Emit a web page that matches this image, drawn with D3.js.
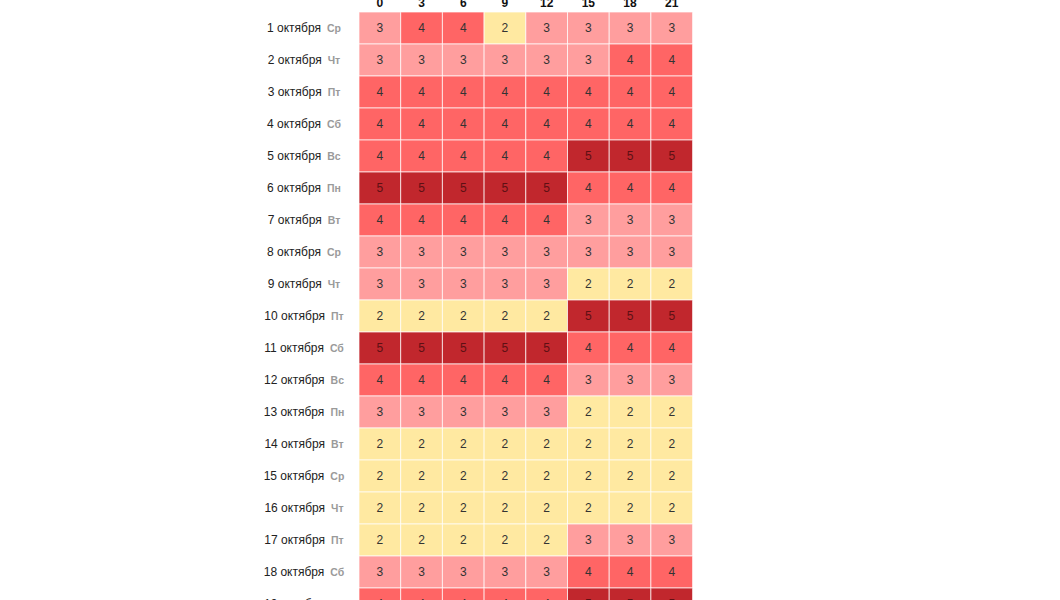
<!DOCTYPE html>
<html>
<head>
<meta charset="utf-8">
<script src="https://cdn.jsdelivr.net/npm/d3@7"></script>
<style>
  body { margin: 0; background: #fff; font-family: "Liberation Sans", Arial, sans-serif; }
  #heatmap { width: 1060px; height: 600px; overflow: hidden; }
</style>
</head>
<body>
<div id="heatmap"></div>
<script>
// hours on top, days down the left
const hours = [0, 3, 6, 9, 12, 15, 18, 21];
const days = ["1 октября", "2 октября", "3 октября", "4 октября", "5 октября", "6 октября",
  "7 октября", "8 октября", "9 октября", "10 октября", "11 октября", "12 октября",
  "13 октября", "14 октября", "15 октября", "16 октября", "17 октября", "18 октября", "19 октября"];
const weekdays = ["Ср", "Чт", "Пт", "Сб", "Вс", "Пн", "Вт", "Ср", "Чт", "Пт", "Сб", "Вс",
  "Пн", "Вт", "Ср", "Чт", "Пт", "Сб", "Вс"];
// level per day, one value per hour column
const levels = [
  [3, 4, 4, 2, 3, 3, 3, 3],
  [3, 3, 3, 3, 3, 3, 4, 4],
  [4, 4, 4, 4, 4, 4, 4, 4],
  [4, 4, 4, 4, 4, 4, 4, 4],
  [4, 4, 4, 4, 4, 5, 5, 5],
  [5, 5, 5, 5, 5, 4, 4, 4],
  [4, 4, 4, 4, 4, 3, 3, 3],
  [3, 3, 3, 3, 3, 3, 3, 3],
  [3, 3, 3, 3, 3, 2, 2, 2],
  [2, 2, 2, 2, 2, 5, 5, 5],
  [5, 5, 5, 5, 5, 4, 4, 4],
  [4, 4, 4, 4, 4, 3, 3, 3],
  [3, 3, 3, 3, 3, 2, 2, 2],
  [2, 2, 2, 2, 2, 2, 2, 2],
  [2, 2, 2, 2, 2, 2, 2, 2],
  [2, 2, 2, 2, 2, 2, 2, 2],
  [2, 2, 2, 2, 2, 3, 3, 3],
  [3, 3, 3, 3, 3, 4, 4, 4],
  [4, 4, 4, 4, 4, 5, 5, 5]
];
const levelKeys = [2, 3, 4, 5];
const levelColors = ["#ffe9a1", "#ff9e9e", "#ff6565", "#c1272d"];

const width = 1060;
const height = 600;
const gridLeft = 359, gridTop = 12;
const cellW = 41.7, cellH = 32;

const svg = d3.select("#heatmap")
  .append("svg")
  .attr("width", width)
  .attr("height", height);

const x = d3.scaleBand()
  .domain(hours)
  .range([gridLeft, gridLeft + cellW * hours.length]);

const y = d3.scaleBand()
  .domain(days)
  .range([gridTop, gridTop + cellH * days.length]);

const color = d3.scaleOrdinal().domain(levelKeys).range(levelColors);

// flatten into cells
const cells = [];
days.forEach((day, i) => {
  hours.forEach((h, j) => {
    cells.push({ day, hour: h, value: levels[i][j] });
  });
});

const cellG = svg.append("g");

cellG.selectAll("rect")
  .data(cells)
  .join("rect")
  .attr("x", d => x(d.hour))
  .attr("y", d => y(d.day))
  .attr("width", x.bandwidth())
  .attr("height", y.bandwidth())
  .attr("fill", d => color(d.value))
  .attr("stroke", "#fff")
  .attr("stroke-opacity", 0.7)
  .attr("stroke-width", 1);

cellG.selectAll("text")
  .data(cells)
  .join("text")
  .attr("x", d => x(d.hour) + x.bandwidth() / 2)
  .attr("y", d => y(d.day) + y.bandwidth() / 2)
  .attr("dy", "0.36em")
  .attr("text-anchor", "middle")
  .attr("font-size", "12px")
  .attr("fill", d => d.value === 5 ? "#5e1014" : "#333")
  .text(d => d.value);

// hour header, top is clipped in the reference
svg.append("g")
  .selectAll("text")
  .data(hours)
  .join("text")
  .attr("x", d => x(d) + x.bandwidth() / 2)
  .attr("y", 7)
  .attr("text-anchor", "middle")
  .attr("font-size", "12px")
  .attr("font-weight", "bold")
  .attr("fill", "#111")
  .text(d => d);

// day labels: date + weekday
const labels = svg.append("g")
  .selectAll("text")
  .data(days)
  .join("text")
  .attr("x", 304)
  .attr("y", d => y(d) + y.bandwidth() / 2)
  .attr("dy", "0.36em")
  .attr("font-size", "12px")
  .attr("text-anchor", "middle");

labels.append("tspan")
  .attr("fill", "#222")
  .text(d => d);

labels.append("tspan")
  .attr("dx", 6)
  .attr("font-size", "10.5px")
  .attr("font-weight", "bold")
  .attr("fill", "#9a9a9a")
  .text((d, i) => weekdays[i]);
</script>
</body>
</html>
